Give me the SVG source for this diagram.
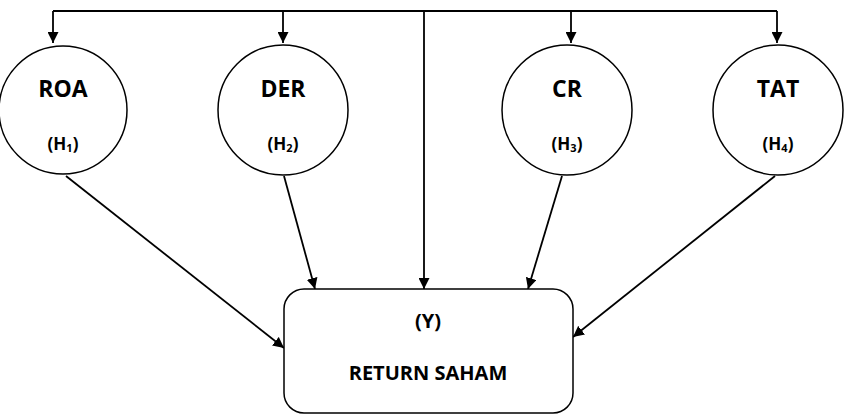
<svg xmlns="http://www.w3.org/2000/svg" width="850" height="418" viewBox="0 0 850 418">
<style>
.n{fill:#fff;stroke:#000;stroke-width:1.5}
.c{fill:none;stroke:#000;stroke-width:1.8}
.t{font-family:"Open Sans","Liberation Sans",sans-serif;font-weight:bold;fill:#000;text-anchor:middle}
.big{font-size:23px}
.sm{font-size:17px}
.bx{font-size:20px}
</style>
<defs>
<marker id="a" viewBox="0 0 10 10" refX="10" refY="5" markerWidth="11" markerHeight="11" markerUnits="userSpaceOnUse" orient="auto">
<path d="M0,0 L10,5 L0,10 z" fill="#000"/>
</marker>
</defs>
<g id="connectors">
<polyline class="c" points="53,11 777,11"/>
<line class="c" x1="53" y1="11" x2="53" y2="43" marker-end="url(#a)"/>
<line class="c" x1="283" y1="11" x2="283" y2="43" marker-end="url(#a)"/>
<line class="c" x1="571" y1="11" x2="571" y2="43" marker-end="url(#a)"/>
<line class="c" x1="777" y1="11" x2="777" y2="43" marker-end="url(#a)"/>
<line class="c" x1="424" y1="11" x2="424" y2="289" marker-end="url(#a)"/>
<line class="c" x1="66" y1="176" x2="284" y2="348" marker-end="url(#a)"/>
<line class="c" x1="284" y1="176" x2="315" y2="289" marker-end="url(#a)"/>
<line class="c" x1="562" y1="176" x2="528" y2="289" marker-end="url(#a)"/>
<line class="c" x1="775" y1="176" x2="573" y2="337" marker-end="url(#a)"/>
</g>
<g id="roa">
<circle class="n" cx="63" cy="110" r="64"/>
<text class="t big" x="63" y="97">ROA</text>
<text class="t sm" x="63" y="150">(H<tspan font-size="11" dy="2">1</tspan><tspan dy="-2">)</tspan></text>
</g>
<g id="der">
<circle class="n" cx="283" cy="110" r="65"/>
<text class="t big" x="283" y="97">DER</text>
<text class="t sm" x="283" y="150">(H<tspan font-size="11" dy="2">2</tspan><tspan dy="-2">)</tspan></text>
</g>
<g id="cr">
<circle class="n" cx="567" cy="110" r="65"/>
<text class="t big" x="567" y="97">CR</text>
<text class="t sm" x="567" y="150">(H<tspan font-size="11" dy="2">3</tspan><tspan dy="-2">)</tspan></text>
</g>
<g id="tat">
<circle class="n" cx="778" cy="110" r="65"/>
<text class="t big" x="778" y="97">TAT</text>
<text class="t sm" x="778" y="150">(H<tspan font-size="11" dy="2">4</tspan><tspan dy="-2">)</tspan></text>
</g>
<g id="y">
<rect class="n" x="284" y="289" width="289" height="124" rx="20" ry="20"/>
<text class="t bx" x="428" y="328">(Y)</text>
<text class="t bx" x="428" y="380">RETURN SAHAM</text>
</g>
</svg>
